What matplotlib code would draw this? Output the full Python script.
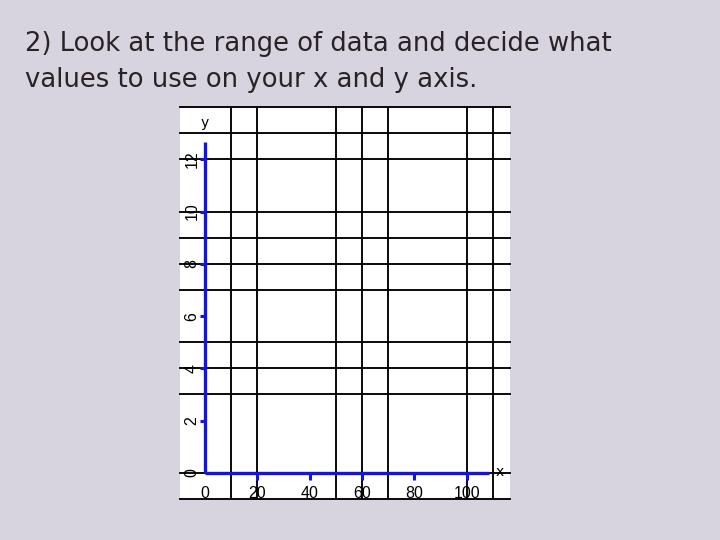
import matplotlib
matplotlib.use("Agg")
import matplotlib.pyplot as plt

# ---- data ----
title_lines = ["2) Look at the range of data and decide what",
               "values to use on your x and y axis."]
x_ticks = [0, 20, 40, 60, 80, 100]
y_ticks = [0, 2, 4, 6, 8, 10, 12]
x_grid = [10, 20, 50, 60, 70, 100, 110]
y_grid = [14, 13, 12, 10, 9, 8, 7, 5, 4, 3, 0, -1]
x_axis_end = 108.7
y_axis_end = 12.65

BG = "#d7d3df"
BLUE = "#1414e0"

fig = plt.figure(figsize=(7.2, 5.4), dpi=100, facecolor=BG)
ax = fig.add_axes([179.5 / 720, (540 - 499) / 540, (510 - 179.5) / 720, (499 - 107) / 540])
ax.set_facecolor("white")
ax.set_xlim(-9.75, 116.6)
ax.set_ylim(-1, 14)
for s in ax.spines.values():
    s.set_visible(False)
ax.set_xticks([])
ax.set_yticks([])

for gx in x_grid:
    ax.axvline(gx, color="black", lw=1.35, zorder=1)
for gy in y_grid:
    ax.axhline(gy, color="black", lw=1.35, zorder=1, clip_on=False)

# blue axes
ax.plot([0, 0], [0, y_axis_end], color=BLUE, lw=2.4, zorder=3, solid_capstyle="butt")
ax.plot([0, x_axis_end], [0, 0], color=BLUE, lw=2.4, zorder=3, solid_capstyle="butt")

lab_font = dict(family="Liberation Sans", fontsize=11.5, color="black")
for t in y_ticks[1:]:
    ax.plot([-1.95, 0], [t, t], color=BLUE, lw=2.2, zorder=3, solid_capstyle="butt")
for t in y_ticks:
    ax.text(-4.9, t, str(t), rotation=90, ha="center", va="center", **lab_font)
for t in x_ticks[1:]:
    ax.plot([t, t], [0, -0.27], color=BLUE, lw=2.2, zorder=3, solid_capstyle="butt")
for t in x_ticks:
    ax.text(t, -0.8, str(t), ha="center", va="center", **lab_font)

ax.text(0, 13.4, "y", ha="center", va="center", fontsize=10, family="DejaVu Sans")
ax.text(112.7, 0.05, "x", ha="center", va="center", fontsize=10, family="DejaVu Sans")

# title
t1 = fig.text(25 / 720, 1 - 44 / 540, title_lines[0], ha="left", va="center",
              fontsize=18, color="#2a2224", family="DejaVu Sans")
t2 = fig.text(25 / 720, 1 - 80 / 540, title_lines[1], ha="left", va="center",
              fontsize=18, color="#2a2224", family="DejaVu Sans")
fig.canvas.draw()
w = t1.get_window_extent().width
fs = 18 * 587 / w
t1.set_fontsize(fs)
t2.set_fontsize(fs)

fig.savefig("out.png", dpi=100, facecolor=BG)
